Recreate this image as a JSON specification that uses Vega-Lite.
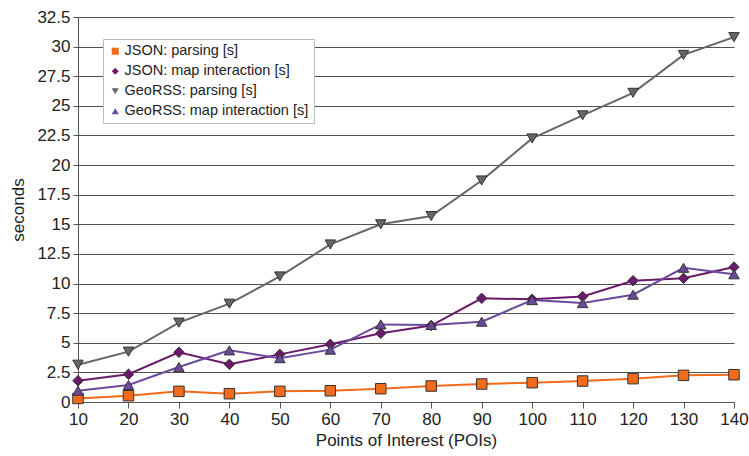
{
  "$schema": "https://vega.github.io/schema/vega-lite/v6.json",
  "width": 656,
  "height": 385,
  "autosize": {"type": "none"},
  "padding": {"left": 78, "top": 17, "right": 15, "bottom": 54},
  "background": "white",
  "config": {
    "view": {"stroke": null},
    "font": "Liberation Sans",
    "axis": {"labelFont": "Liberation Sans", "titleFont": "Liberation Sans", "labelColor": "#222", "titleColor": "#222", "titleFontWeight": "normal"}
  },
  "data": {
    "values": [
      {"poi": 10, "series": "JSON: parsing [s]", "sec": 0.3},
      {"poi": 20, "series": "JSON: parsing [s]", "sec": 0.53},
      {"poi": 30, "series": "JSON: parsing [s]", "sec": 0.9},
      {"poi": 40, "series": "JSON: parsing [s]", "sec": 0.7},
      {"poi": 50, "series": "JSON: parsing [s]", "sec": 0.9},
      {"poi": 60, "series": "JSON: parsing [s]", "sec": 0.95},
      {"poi": 70, "series": "JSON: parsing [s]", "sec": 1.12},
      {"poi": 80, "series": "JSON: parsing [s]", "sec": 1.35},
      {"poi": 90, "series": "JSON: parsing [s]", "sec": 1.52},
      {"poi": 100, "series": "JSON: parsing [s]", "sec": 1.63},
      {"poi": 110, "series": "JSON: parsing [s]", "sec": 1.77},
      {"poi": 120, "series": "JSON: parsing [s]", "sec": 1.97},
      {"poi": 130, "series": "JSON: parsing [s]", "sec": 2.25},
      {"poi": 140, "series": "JSON: parsing [s]", "sec": 2.3},
      {"poi": 10, "series": "JSON: map interaction [s]", "sec": 1.8},
      {"poi": 20, "series": "JSON: map interaction [s]", "sec": 2.34},
      {"poi": 30, "series": "JSON: map interaction [s]", "sec": 4.2},
      {"poi": 40, "series": "JSON: map interaction [s]", "sec": 3.18},
      {"poi": 50, "series": "JSON: map interaction [s]", "sec": 4.02},
      {"poi": 60, "series": "JSON: map interaction [s]", "sec": 4.87},
      {"poi": 70, "series": "JSON: map interaction [s]", "sec": 5.8},
      {"poi": 80, "series": "JSON: map interaction [s]", "sec": 6.45},
      {"poi": 90, "series": "JSON: map interaction [s]", "sec": 8.75},
      {"poi": 100, "series": "JSON: map interaction [s]", "sec": 8.67},
      {"poi": 110, "series": "JSON: map interaction [s]", "sec": 8.9},
      {"poi": 120, "series": "JSON: map interaction [s]", "sec": 10.24},
      {"poi": 130, "series": "JSON: map interaction [s]", "sec": 10.44},
      {"poi": 140, "series": "JSON: map interaction [s]", "sec": 11.39},
      {"poi": 10, "series": "GeoRSS: parsing [s]", "sec": 3.15},
      {"poi": 20, "series": "GeoRSS: parsing [s]", "sec": 4.25},
      {"poi": 30, "series": "GeoRSS: parsing [s]", "sec": 6.7},
      {"poi": 40, "series": "GeoRSS: parsing [s]", "sec": 8.3},
      {"poi": 50, "series": "GeoRSS: parsing [s]", "sec": 10.6},
      {"poi": 60, "series": "GeoRSS: parsing [s]", "sec": 13.3},
      {"poi": 70, "series": "GeoRSS: parsing [s]", "sec": 15.0},
      {"poi": 80, "series": "GeoRSS: parsing [s]", "sec": 15.7},
      {"poi": 90, "series": "GeoRSS: parsing [s]", "sec": 18.7},
      {"poi": 100, "series": "GeoRSS: parsing [s]", "sec": 22.25},
      {"poi": 110, "series": "GeoRSS: parsing [s]", "sec": 24.2},
      {"poi": 120, "series": "GeoRSS: parsing [s]", "sec": 26.1},
      {"poi": 130, "series": "GeoRSS: parsing [s]", "sec": 29.3},
      {"poi": 140, "series": "GeoRSS: parsing [s]", "sec": 30.8},
      {"poi": 10, "series": "GeoRSS: map interaction [s]", "sec": 0.95},
      {"poi": 20, "series": "GeoRSS: map interaction [s]", "sec": 1.43},
      {"poi": 30, "series": "GeoRSS: map interaction [s]", "sec": 2.95},
      {"poi": 40, "series": "GeoRSS: map interaction [s]", "sec": 4.36},
      {"poi": 50, "series": "GeoRSS: map interaction [s]", "sec": 3.7},
      {"poi": 60, "series": "GeoRSS: map interaction [s]", "sec": 4.42},
      {"poi": 70, "series": "GeoRSS: map interaction [s]", "sec": 6.55},
      {"poi": 80, "series": "GeoRSS: map interaction [s]", "sec": 6.5},
      {"poi": 90, "series": "GeoRSS: map interaction [s]", "sec": 6.78},
      {"poi": 100, "series": "GeoRSS: map interaction [s]", "sec": 8.6},
      {"poi": 110, "series": "GeoRSS: map interaction [s]", "sec": 8.35},
      {"poi": 120, "series": "GeoRSS: map interaction [s]", "sec": 9.06},
      {"poi": 130, "series": "GeoRSS: map interaction [s]", "sec": 11.33},
      {"poi": 140, "series": "GeoRSS: map interaction [s]", "sec": 10.78}
    ]
  },
  "encoding": {
    "x": {
      "field": "poi", "type": "quantitative",
      "scale": {"domain": [10, 140], "nice": false, "zero": false},
      "axis": {"values": [10,20,30,40,50,60,70,80,90,100,110,120,130,140], "title": "Points of Interest (POIs)", "labelFontSize": 17, "titleFontSize": 17, "grid": false, "domainColor": "#555", "tickColor": "#555", "tickSize": 6, "labelPadding": 3, "titlePadding": 5, "labelFlush": false}
    },
    "y": {
      "field": "sec", "type": "quantitative",
      "scale": {"domain": [0, 32.5], "nice": false},
      "axis": {"values": [0,2.5,5,7.5,10,12.5,15,17.5,20,22.5,25,27.5,30,32.5], "format": ".1~f", "title": "seconds", "labelFontSize": 17, "titleFontSize": 17, "gridColor": "#333", "gridOpacity": 0.85, "domainColor": "#555", "tickColor": "#555", "tickSize": 5, "labelPadding": 3, "titlePadding": 9, "labelFlush": false}
    }
  },
  "resolve": {"legend": {"color": "independent", "shape": "independent"}},
  "layer": [
    {
      "mark": {"type": "line", "strokeWidth": 2},
      "encoding": {
        "color": {
          "field": "series", "type": "nominal",
          "scale": {
            "domain": ["JSON: parsing [s]", "JSON: map interaction [s]", "GeoRSS: parsing [s]", "GeoRSS: map interaction [s]"],
            "range": ["#F26A1B", "#6B1A6B", "#666666", "#6A4A9A"]
          },
          "legend": null
        }
      }
    },
    {
      "mark": {"type": "point", "filled": true, "size": 110, "opacity": 1, "stroke": "#333", "strokeWidth": 1},
      "encoding": {
        "color": {
          "field": "series", "type": "nominal",
          "scale": {
            "domain": ["JSON: parsing [s]", "JSON: map interaction [s]", "GeoRSS: parsing [s]", "GeoRSS: map interaction [s]"],
            "range": ["#F26A1B", "#6B1A6B", "#666666", "#6A4A9A"]
          },
          "legend": {
            "title": null, "orient": "none", "legendX": 25, "legendY": 22,
            "labelFontSize": 14.5, "labelFont": "Liberation Sans", "labelColor": "#222",
            "symbolSize": 50, "symbolStrokeWidth": 0, "rowPadding": 5, "padding": 5, "labelOffset": 2,
            "fillColor": "white", "strokeColor": "#bbb", "labelLimit": 300
          }
        },
        "shape": {
          "field": "series", "type": "nominal",
          "scale": {
            "domain": ["JSON: parsing [s]", "JSON: map interaction [s]", "GeoRSS: parsing [s]", "GeoRSS: map interaction [s]"],
            "range": ["square", "diamond", "triangle-down", "triangle-up"]
          },
          "legend": null
        }
      }
    }
  ]
}
